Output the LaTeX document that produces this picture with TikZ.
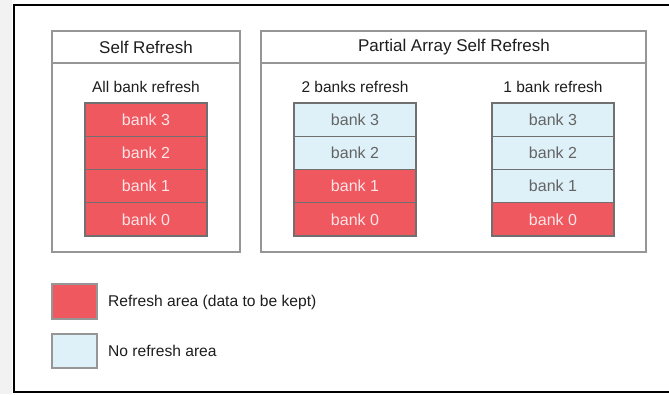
\documentclass[tikz,border=0pt]{standalone}
\usepackage{fontspec}
\setmainfont{Liberation Sans}
\definecolor{refred}{RGB}{238,88,94}
\definecolor{norefblue}{RGB}{222,241,249}
\definecolor{cellborder}{RGB}{112,112,112}
\definecolor{boxgray}{RGB}{150,150,150}
\definecolor{titletext}{RGB}{30,30,30}
\definecolor{bluetext}{RGB}{100,100,100}
\definecolor{redtext}{RGB}{255,228,232}
\begin{document}
\begin{tikzpicture}[x=1pt,y=-1pt,
  bankred/.style={draw=cellborder,line width=1.2pt,fill=refred,text=redtext,minimum width=122pt,minimum height=33.25pt,inner sep=0pt,font=\fontsize{16}{18}\selectfont},
  bankblue/.style={draw=cellborder,line width=1.2pt,fill=norefblue,text=bluetext,minimum width=122pt,minimum height=33.25pt,inner sep=0pt,font=\fontsize{16}{18}\selectfont},
  groupbox/.style={draw=boxgray,line width=1.5pt},
  title/.style={text=titletext,font=\fontsize{17}{20}\selectfont,inner sep=0pt},
  sublabel/.style={text=titletext,font=\fontsize{15.5}{18}\selectfont,inner sep=0pt},
  legtext/.style={text=titletext,font=\fontsize{15.6}{18}\selectfont,inner sep=0pt,anchor=west},
  legred/.style={draw=boxgray,line width=1.2pt,fill=refred,minimum width=45pt,minimum height=35pt,inner sep=0pt},
  legblue/.style={draw=boxgray,line width=1.2pt,fill=norefblue,minimum width=45pt,minimum height=34pt,inner sep=0pt}]
\useasboundingbox (0,0) rectangle (669,394);
\fill[black!5] (0,0) rectangle (12,394);
\fill[white] (14,5) rectangle (669,392);
\draw[black,line width=2.8pt] (675,5) -- (14,5) -- (14,392) -- (675,392);
% group boxes
\draw[groupbox] (52,31) rectangle (240,252);
\draw[groupbox] (52,63) -- (240,63);
\draw[groupbox] (261,31) rectangle (646,252);
\draw[groupbox] (261,63) -- (646,63);
\node[title] (tself) at (146,47) {Self Refresh};
\node[title] (tpasr) at (454,47) {Partial Array Self Refresh};
\node[sublabel] (lall) at (146,87) {All bank refresh};
\node[sublabel] (ltwo) at (355,87) {2 banks refresh};
\node[sublabel] (lone) at (553,87) {1 bank refresh};
% self refresh banks
\node[bankred] (s3) at (146,119.6) {bank 3};
\node[bankred] (s2) at (146,152.9) {bank 2};
\node[bankred] (s1) at (146,186.1) {bank 1};
\node[bankred] (s0) at (146,219.4) {bank 0};
% 2 banks
\node[bankblue] (a3) at (355,119.6) {bank 3};
\node[bankblue] (a2) at (355,152.9) {bank 2};
\node[bankred] (a1) at (355,186.1) {bank 1};
\node[bankred] (a0) at (355,219.4) {bank 0};
% 1 bank
\node[bankblue] (b3) at (553,119.6) {bank 3};
\node[bankblue] (b2) at (553,152.9) {bank 2};
\node[bankblue] (b1) at (553,186.1) {bank 1};
\node[bankred] (b0) at (553,219.4) {bank 0};
% legend
\node[legred] (kred) at (74.5,301.5) {};
\node[legblue] (kblue) at (74.5,351) {};
\node[legtext] (tred) at (108,302) {Refresh area (data to be kept)};
\node[legtext] (tblue) at (108,351) {No refresh area};
\end{tikzpicture}
\end{document}
